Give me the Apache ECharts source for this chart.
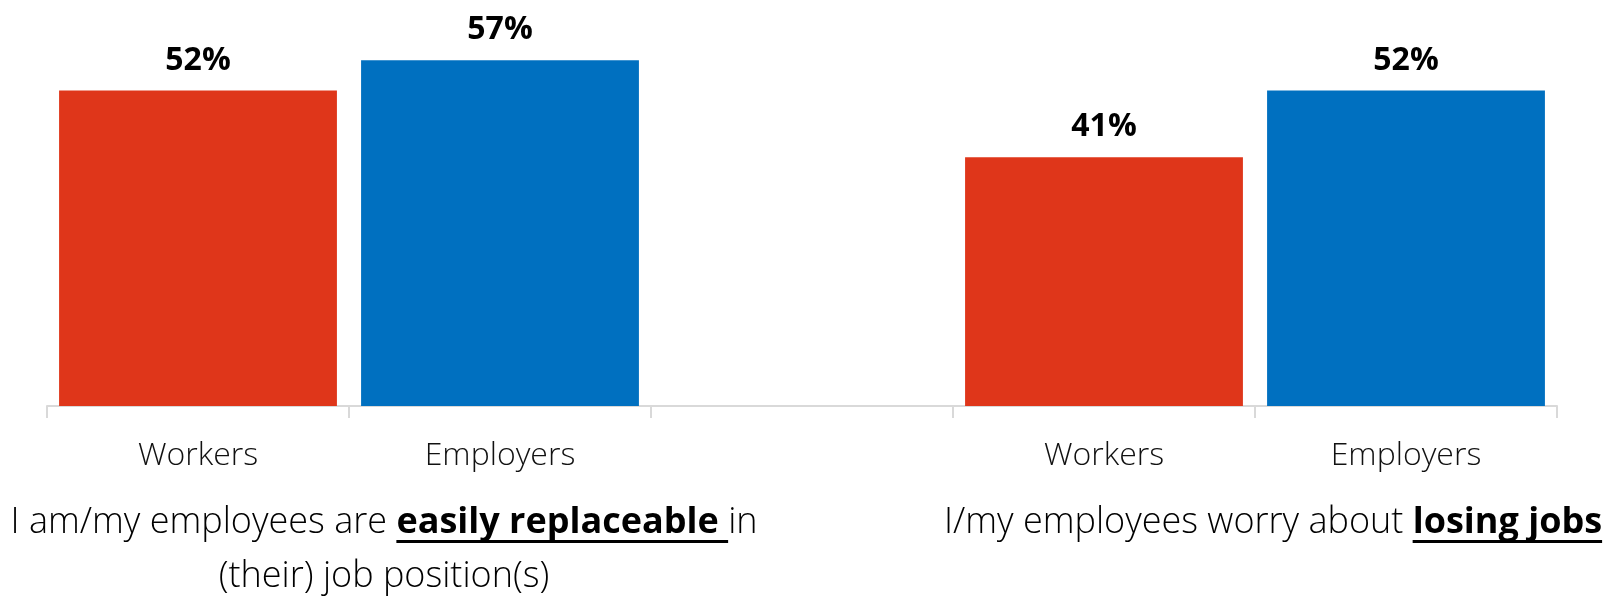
<!DOCTYPE html>
<html>
<head>
<meta charset="utf-8">
<script src="https://cdn.jsdelivr.net/npm/echarts@6/dist/echarts.min.js"></script>
<style>
  html, body { margin: 0; padding: 0; background: #fff; }
  #chart { width: 1616px; height: 596px; }
</style>
</head>
<body>
<div id="chart"></div>
<script>
// Survey answers, share of respondents agreeing (%)
const categories = ['Workers', 'Employers', '', 'Workers', 'Employers'];
const values = [52, 57, null, 41, 52];
const barColors = ['#DF361A', '#0070C0', null, '#DF361A', '#0070C0'];
const valueSuffix = '%';

// Statement captions under each pair of bars (bold pieces are underlined)
const statementLeft = [
  [{ text: 'I am/my employees are ', bold: false }, { text: 'easily replaceable ', bold: true }, { text: 'in', bold: false }],
  [{ text: '(their) job position(s)', bold: false }]
];
const statementRight = [
  [{ text: 'I/my employees worry about ', bold: false }, { text: 'losing jobs', bold: true }]
];

const CAPTION_SIZE = 36;
const lightFont = '300 ' + CAPTION_SIZE + 'px "Open Sans"';
const boldFont = '700 ' + CAPTION_SIZE + 'px "Open Sans"';

const measureCtx = document.createElement('canvas').getContext('2d');
function textWidth(str, font) {
  measureCtx.font = font;
  return measureCtx.measureText(str).width;
}

// Lay out caption lines as runs of text, centred on cx
function captionElements(lines, cx, firstCenterY, lineGap) {
  const els = [];
  lines.forEach(function (pieces, li) {
    const cy = firstCenterY + li * lineGap;
    const widths = pieces.map(function (p) { return textWidth(p.text, p.bold ? boldFont : lightFont); });
    const total = widths.reduce(function (a, b) { return a + b; }, 0);
    let x = cx - total / 2;
    pieces.forEach(function (p, i) {
      els.push({
        type: 'text',
        silent: true,
        style: {
          text: p.text,
          x: x,
          y: cy,
          font: p.bold ? boldFont : lightFont,
          fill: '#000',
          align: 'left',
          verticalAlign: 'middle'
        }
      });
      if (p.bold) {
        els.push({
          type: 'rect',
          silent: true,
          shape: { x: x, y: cy + 17, width: widths[i], height: 3 },
          style: { fill: '#000' }
        });
      }
      x += widths[i];
    });
  });
  return els;
}

const chart = echarts.init(document.getElementById('chart'), null, { renderer: 'canvas' });

chart.setOption({
  animation: false,
  backgroundColor: '#fff',
  grid: { left: 47, right: 59, top: 42, bottom: 190 },
  xAxis: {
    type: 'category',
    data: categories,
    axisLine: { show: true, lineStyle: { color: '#d9d9d9', width: 2 } },
    axisTick: { show: true, length: 12, lineStyle: { color: '#d9d9d9', width: 2 } },
    axisLabel: {
      interval: 0,
      margin: 34,
      color: '#111',
      fontFamily: 'Open Sans',
      fontWeight: 300,
      fontSize: 32
    }
  },
  yAxis: {
    type: 'value',
    min: 0,
    max: 60,
    show: false,
    splitLine: { show: false }
  },
  series: [{
    type: 'bar',
    barCategoryGap: '8%',
    data: values.map(function (v, i) {
      return { value: v, itemStyle: { color: barColors[i] || '#000' } };
    }),
    label: {
      show: true,
      position: 'top',
      distance: 14,
      color: '#000',
      fontFamily: 'Open Sans',
      fontWeight: 700,
      fontSize: 32,
      formatter: function (p) { return p.value == null ? '' : p.value + valueSuffix; }
    }
  }],
  graphic: captionElements(statementLeft, 384, 523, 54)
    .concat(captionElements(statementRight, 1273, 523, 54))
});
</script>
</body>
</html>
